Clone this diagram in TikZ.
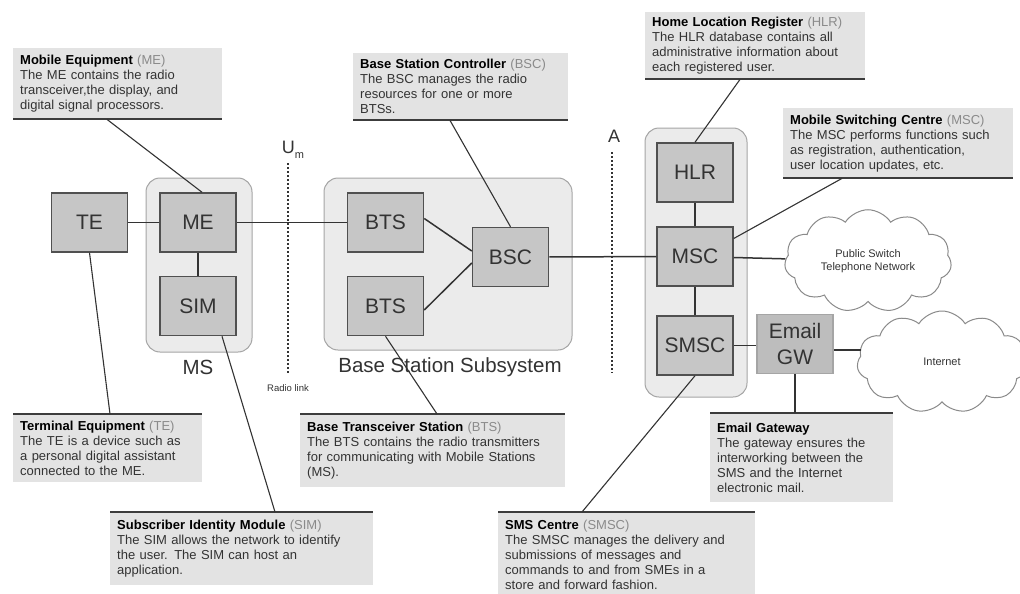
\documentclass[tikz,border=0pt]{standalone}
\usepackage{fontspec}
\setmainfont{Liberation Sans}
\usetikzlibrary{calc,shapes.symbols}
\definecolor{unitfill}{HTML}{C6C6C6}
\definecolor{unitline}{HTML}{505050}
\definecolor{gwfill}{HTML}{BDBDBD}
\definecolor{groupfill}{HTML}{EBEBEB}
\definecolor{groupline}{HTML}{A5A5A5}
\definecolor{notefill}{HTML}{E3E3E3}
\definecolor{noteline}{HTML}{3C3C3C}
\definecolor{inkgray}{HTML}{333333}
\definecolor{softink}{HTML}{8A8A8A}
\newcommand{\notetitle}[2]{\textbf{\color{black}#1} {\color{softink}(#2)}}
\tikzset{
  unitbox/.style={
    draw=unitline,
    fill=unitfill,
    line width=1.5pt,
    minimum width=76pt,
    minimum height=59pt,
    inner sep=0pt,
    align=center,
    text=inkgray,
    font=\fontsize{21}{26}\selectfont
  },
  gwbox/.style={unitbox, draw=groupline, fill=gwfill},
  groupbox/.style={draw=groupline, fill=groupfill, line width=1pt, rounded corners=14pt, inner sep=0pt},
  grouplabel/.style={text=inkgray, font=\fontsize{20.5}{24}\selectfont},
  notebox/.style={
    fill=notefill,
    anchor=north west,
    inner xsep=7pt,
    inner ysep=4pt,
    text width=#1,
    align=left,
    text=inkgray,
    font=\fontsize{13}{15}\selectfont
  },
  noterule/.style={draw=noteline, line width=2pt},
  leader/.style={draw=inkgray, line width=1.1pt},
  link/.style={draw=inkgray, line width=1.5pt},
  ifline/.style={draw=inkgray, line width=1.3pt, dash pattern=on 1.5pt off 2.5pt},
  netcloud/.style={cloud, cloud puffs=11, cloud puff arc=115, aspect=1.7, draw=softink, fill=white,
    line width=1pt, text=inkgray, align=center, font=\fontsize{11}{13}\selectfont}
}

\begin{document}
\begin{tikzpicture}[x=1pt,y=-1pt]
  \useasboundingbox (0,0) rectangle (1020,594);
  \fill[white] (0,0) rectangle (1020,594);

  % groups
  \node[groupbox, minimum width=106pt, minimum height=174pt] (ms-group) at (199,265) {};
  \node[groupbox, minimum width=248pt, minimum height=172pt] (bss-group) at (448,264) {};
  \node[groupbox, minimum width=102pt, minimum height=269pt] (core-group) at (696,262.5) {};
  \node[grouplabel] (ms-label) at (198,367) {MS};
  \node[grouplabel] (bss-label) at (450,367) {Base Station Subsystem};

  % interfaces
  \coordinate (um-top) at (288,163);
  \coordinate (um-bot) at (288,373);
  \coordinate (a-top) at (612,152);
  \coordinate (a-bot) at (612,373);
  \node[text=inkgray, font=\fontsize{18}{20}\selectfont] (um-label) at (293,150) {U\raisebox{-0.5ex}{\fontsize{11}{12}\selectfont m}};
  \node[text=inkgray, font=\fontsize{18}{20}\selectfont] (a-label) at (614,136) {A};
  \node[text=inkgray, font=\fontsize{9.5}{11}\selectfont] (radio-label) at (288,388) {Radio link};

  % units
  \node[unitbox] (te) at (89.5,222.5) {TE};
  \node[unitbox] (me) at (198,222.5) {ME};
  \node[unitbox] (sim) at (198,306) {SIM};
  \node[unitbox] (bts1) at (385.5,222.5) {BTS};
  \node[unitbox] (bts2) at (385.5,306) {BTS};
  \node[unitbox] (bsc) at (510.5,257) {BSC};
  \node[unitbox] (hlr) at (695,172.5) {HLR};
  \node[unitbox] (msc) at (695,256.5) {MSC};
  \node[unitbox] (smsc) at (695,345.5) {SMSC};
  \node[gwbox] (gw) at (795,344) {Email\\GW};

  \node[netcloud, minimum width=167pt, minimum height=98pt] (pstn) at (868,261) {Public Switch\\Telephone Network};
  \node[netcloud, minimum width=170pt, minimum height=102pt] (internet) at (942,362) {Internet};

  \draw[ifline] (um-top) -- (um-bot);
  \draw[ifline] (a-top) -- (a-bot);

  \draw[link] (te) -- (me);
  \draw[link] (me) -- (sim);
  \draw[link] (me) -- (bts1);
  \draw[link] ($(bts1.east)+(0,-4)$) -- ($(bsc.west)+(0,-6)$);
  \draw[link] ($(bts2.east)+(0,4)$) -- ($(bsc.west)+(0,6)$);
  \draw[link] (bsc) -- (msc);
  \draw[link] (hlr) -- (msc);
  \draw[link] (msc) -- (smsc);
  \draw[link] (msc) -- (pstn);
  \draw[link] (smsc.east) -- (smsc.east -| gw.west);
  \draw[link] ($(gw.east)+(0,6)$) -- ($(gw.east -| internet.west)+(4,6)$);

  % callouts
  \node[notebox=195pt, minimum height=71pt] (me-note) at (13,48)
    {\notetitle{Mobile Equipment}{ME}\\The ME contains the radio\\transceiver,the display, and\\digital signal processors.};
  \node[notebox=201pt, minimum height=67pt] (bsc-note) at (353,53)
    {\notetitle{Base Station Controller}{BSC}\\The BSC manages the radio\\resources for one or more\\BTSs.};
  \node[notebox=206pt, minimum height=67pt] (hlr-note) at (645,12)
    {\notetitle{Home Location Register}{HLR}\\The HLR database contains all\\administrative information about\\each registered user.};
  \node[notebox=216pt, minimum height=70pt] (msc-note) at (783,108)
    {\notetitle{Mobile Switching Centre}{MSC}\\The MSC performs functions such\\as registration, authentication,\\user location updates, etc.};
  \node[notebox=175pt, minimum height=68pt] (te-note) at (13,414)
    {\notetitle{Terminal Equipment}{TE}\\The TE is a device such as\\a personal digital assistant\\connected to the ME.};
  \node[notebox=251pt, minimum height=73pt] (bts-note) at (300,414)
    {\notetitle{Base Transceiver Station}{BTS}\\The BTS contains the radio transmitters\\for communicating with Mobile Stations\\(MS).};
  \node[notebox=249pt, minimum height=73pt] (sim-note) at (110,512)
    {\notetitle{Subscriber Identity Module}{SIM}\\The SIM allows the network to identify\\the user. The SIM can host an\\application.};
  \node[notebox=243pt, minimum height=85pt] (smsc-note) at (498,512)
    {\notetitle{SMS Centre}{SMSC}\\The SMSC manages the delivery and\\submissions of messages and\\commands to and from SMEs in a\\store and forward fashion.};
  \node[notebox=169pt, minimum height=89pt] (gw-note) at (710,413)
    {\textbf{\color{black}Email Gateway}\\The gateway ensures the\\interworking between the\\SMS and the Internet\\electronic mail.};

  \draw[noterule] (me-note.south west) -- (me-note.south east);
  \draw[noterule] (bsc-note.south west) -- (bsc-note.south east);
  \draw[noterule] (hlr-note.south west) -- (hlr-note.south east);
  \draw[noterule] (msc-note.south west) -- (msc-note.south east);
  \draw[noterule] (te-note.north west) -- (te-note.north east);
  \draw[noterule] (bts-note.north west) -- (bts-note.north east);
  \draw[noterule] (sim-note.north west) -- (sim-note.north east);
  \draw[noterule] (smsc-note.north west) -- (smsc-note.north east);
  \draw[noterule] (gw-note.north west) -- (gw-note.north east);

  % leaders
  \draw[leader] ($(me-note.south west)+(94,0)$) -- ($(me.north)+(4,0)$);
  \draw[leader] ($(bsc-note.south west)+(97,0)$) -- (bsc.north);
  \draw[leader] ($(hlr-note.south west)+(95,0)$) -- (hlr.north);
  \draw[leader] ($(msc-note.south west)+(59,0)$) -- ($(msc.east)+(0,-18)$);
  \draw[leader] (te.south) -- ($(te-note.north west)+(97,0)$);
  \draw[leader] ($(sim.south)+(24,0)$) -- ($(sim-note.north west)+(165,0)$);
  \draw[leader] (bts2.south) -- ($(bts-note.north west)+(137,0)$);
  \draw[leader] (smsc.south) -- ($(smsc-note.north west)+(84,0)$);
  \draw[leader] (gw.south) -- (gw.south |- gw-note.north);
\end{tikzpicture}
\end{document}
